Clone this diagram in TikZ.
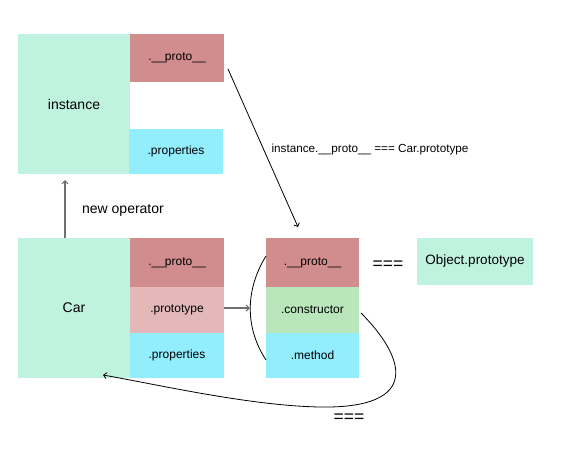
\documentclass[tikz,border=0pt]{standalone}
\usepackage{fontspec}
\setmainfont{Liberation Sans}
\usetikzlibrary{arrows.meta}
\definecolor{mint}{HTML}{BFF3E0}
\definecolor{protored}{HTML}{D18C8E}
\definecolor{protopink}{HTML}{E4B8B9}
\definecolor{propcyan}{HTML}{92EDFD}
\definecolor{ctorgreen}{HTML}{B9E6BA}
\definecolor{arrgray}{HTML}{707070}
\tikzset{
  cell/.style={rectangle, inner sep=0pt, font=\fontsize{12}{14}\selectfont},
  bigcell/.style={rectangle, inner sep=0pt, fill=mint, minimum width=112pt, minimum height=140pt, font=\fontsize{14}{16}\selectfont},
  lbl/.style={inner sep=0pt, font=\fontsize{11.7}{14}\selectfont},
  tip/.style={-{Straight Barb[length=3pt,width=6pt]}},
  conn/.style={draw=black, line width=0.8pt}
}
\begin{document}
\begin{tikzpicture}[x=1pt,y=-1pt]
\useasboundingbox (0,0) rectangle (570,472);
% instance
\node[bigcell] (inst) at (74,104) {instance};
\node[cell, fill=protored, minimum width=94pt, minimum height=48pt] (iproto) at (177,58) {.\_\_proto\_\_};
\node[cell, fill=propcyan, minimum width=94pt, minimum height=45pt] (iprops) at (176,151.5) {.properties};
% Car
\node[bigcell] (car) at (74,308) {Car};
\node[cell, fill=protored, minimum width=94pt, minimum height=49pt] (cproto) at (177,262.5) {.\_\_proto\_\_};
\node[cell, fill=protopink, minimum width=94pt, minimum height=46pt] (cptype) at (177,310) {.prototype};
\node[cell, fill=propcyan, minimum width=94pt, minimum height=45pt] (cprops) at (177,355.5) {.properties};
% prototype object
\node[cell, fill=protored, minimum width=93pt, minimum height=49pt] (mproto) at (312.5,262.5) {.\_\_proto\_\_};
\node[cell, fill=ctorgreen, minimum width=93pt, minimum height=46pt] (mctor) at (312.5,310) {.constructor};
\node[cell, fill=propcyan, minimum width=93pt, minimum height=45pt] (mmeth) at (312.5,355.5) {.method};
% Object.prototype
\node[cell, fill=mint, minimum width=116pt, minimum height=47pt, font=\fontsize{13.5}{15}\selectfont] (obj) at (475,261.5) {Object.prototype};
% labels
\node[lbl, font=\fontsize{14}{16}\selectfont] (newop) at (123,210) {new operator};
\node[lbl] (eqlbl) at (370,149) {instance.\_\_proto\_\_ === Car.prototype};
\node[lbl, font=\fontsize{17.5}{20}\selectfont] (eq1) at (388,265) {===};
\node[lbl, font=\fontsize{17.5}{20}\selectfont] (eq2) at (349,418) {===};
% connectors
\coordinate (uptip) at (65,180);
\draw[conn, draw=arrgray, line width=1.2pt, tip] (car.north -| uptip) -- (uptip);
\coordinate (dstart) at (228,69);
\coordinate (dend) at (298,227);
\draw[conn, tip] (dstart) -- (dend);
\coordinate (brtip) at (250,308);
\draw[conn, draw=arrgray, line width=1.2pt, tip] (cptype.east |- brtip) -- (brtip);
\coordinate (brtop) at (266,256);
\coordinate (brbot) at (266,360);
\draw[conn] (brtop) .. controls (245,290) and (245,328) .. (brbot);
\coordinate (cstart) at (361,313);
\coordinate (cmid) at (330,407);
\coordinate (cend) at (103,375);
\draw[conn, tip] (cstart) .. controls (400,352) and (425,405) .. (cmid) .. controls (260,408) and (160,385) .. (cend);
\end{tikzpicture}
\end{document}
